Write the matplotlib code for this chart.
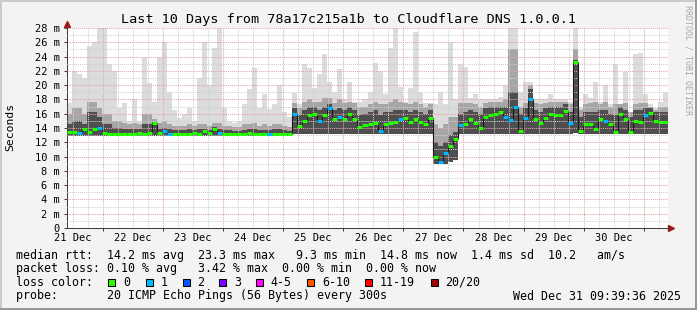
import numpy as np
import matplotlib
matplotlib.use('Agg')
import matplotlib.pyplot as plt
from matplotlib.patches import Rectangle

W, H = 697, 310
MONO = 'DejaVu Sans Mono'
plt.rcParams['font.family'] = MONO

# time axis in days since 21 Dec 00:00; graph ends Wed Dec 31 09:39:36
t_start = 0.4028
t_end = 10.4028
n_bins = 120

# median rtt per bin (ms)
med = [13.5, 13.4, 13.3, 13.9, 13.4, 13.9, 14.0, 13.3, 13.2, 13.2,
       13.2, 13.2, 13.2, 13.2, 13.3, 13.2, 13.3, 14.7, 13.3, 13.6,
       13.2, 13.2, 13.2, 13.2, 13.2, 13.3, 13.2, 13.6, 13.3, 13.9,
       13.3, 13.2, 13.2, 13.2, 13.2, 13.2, 13.3, 13.2, 13.2, 13.2,
       13.2, 13.2, 13.2, 13.2, 13.2, 16.0, 14.3, 15.0, 15.8, 15.9,
       15.0, 15.8, 16.8, 15.2, 15.5, 15.2, 16.0, 15.3, 14.2, 14.4,
       14.6, 14.7, 13.6, 14.6, 14.7, 14.8, 15.2, 15.4, 14.8, 15.2,
       14.8, 14.5, 15.4, 10.0, 9.3, 10.5, 11.5, 12.4, 14.4, 14.6,
       15.2, 14.7, 14.0, 15.6, 15.8, 16.0, 16.2, 15.6, 15.1, 17.0,
       13.6, 15.4, 18.0, 15.2, 14.7, 15.4, 15.9, 15.8, 15.8, 16.4,
       14.7, 23.3, 13.6, 14.6, 14.5, 13.9, 15.2, 15.0, 14.5, 13.4,
       16.0, 15.2, 13.5, 15.0, 14.9, 15.8, 16.1, 15.0, 14.9, 14.9]

# lost pings per bin (0 or 1 of 20)
loss = [0, 0, 1, 0, 0, 0, 1, 0, 0, 0,
        0, 0, 0, 0, 0, 0, 0, 0, 0, 1,
        1, 0, 0, 0, 0, 0, 0, 0, 0, 0,
        1, 0, 0, 0, 0, 0, 0, 0, 0, 0,
        1, 0, 0, 0, 0, 1, 0, 0, 0, 0,
        1, 0, 1, 0, 1, 0, 0, 0, 0, 0,
        0, 0, 1, 0, 0, 0, 1, 0, 0, 0,
        0, 0, 0, 0, 1, 1, 0, 0, 1, 0,
        0, 0, 0, 0, 0, 0, 0, 1, 1, 1,
        0, 1, 1, 0, 0, 0, 0, 0, 0, 0,
        1, 0, 0, 0, 0, 0, 0, 1, 0, 0,
        0, 0, 0, 0, 0, 1, 0, 0, 0, 0]

# smoke envelopes (ms): max ping, upper spread, inner spread, min ping
top = [17.5, 22.0, 21.5, 21.0, 25.5, 26.0, 28.0, 28.0, 23.0, 22.0,
       16.8, 17.5, 15.0, 18.0, 15.0, 23.8, 20.3, 17.7, 24.0, 26.0,
       19.0, 16.5, 15.4, 15.9, 16.8, 15.0, 21.0, 26.0, 20.0, 25.2,
       28.0, 16.8, 15.0, 14.7, 15.0, 17.3, 19.4, 22.4, 16.8, 18.7,
       16.6, 17.3, 20.0, 16.3, 15.5, 18.9, 17.3, 22.9, 22.4, 19.6,
       21.5, 24.3, 20.5, 19.0, 22.2, 18.0, 20.5, 17.7, 17.7, 18.0,
       19.0, 23.1, 22.0, 18.7, 25.2, 28.0, 19.8, 17.7, 19.6, 27.5,
       19.0, 17.5, 17.5, 17.3, 19.0, 17.3, 26.0, 18.0, 23.0, 22.5,
       18.2, 18.7, 18.0, 18.0, 18.0, 18.0, 18.4, 20.0, 28.0, 28.0,
       19.0, 20.5, 20.5, 18.0, 18.0, 18.0, 18.7, 18.0, 18.0, 18.0,
       17.7, 28.0, 17.0, 18.7, 18.2, 20.5, 17.7, 20.0, 17.3, 22.9,
       17.3, 21.8, 16.3, 24.3, 24.5, 18.7, 17.3, 16.8, 17.7, 19.0]

upper = [15.9, 16.8, 16.8, 15.9, 17.7, 17.7, 16.8, 15.9, 15.9, 15.0,
         15.0, 14.7, 14.5, 14.7, 14.5, 15.9, 15.9, 15.2, 14.7, 15.0,
         14.5, 14.3, 14.3, 14.3, 14.5, 14.3, 14.5, 14.5, 14.3, 14.7,
         14.7, 14.3, 14.3, 14.2, 14.2, 14.5, 14.5, 14.7, 14.3, 14.5,
         14.3, 14.5, 14.5, 14.3, 14.2, 17.5, 16.8, 17.7, 18.0, 17.7,
         17.7, 18.2, 18.2, 17.5, 18.0, 17.5, 17.7, 17.5, 17.0, 17.0,
         17.3, 17.7, 17.3, 17.3, 17.7, 18.0, 17.7, 17.5, 17.3, 17.7,
         17.3, 17.0, 17.3, 14.5, 14.0, 14.5, 15.5, 15.5, 17.5, 17.5,
         17.5, 17.3, 17.0, 17.5, 17.7, 17.7, 17.7, 18.0, 25.0, 25.0,
         17.0, 17.5, 20.0, 17.5, 17.3, 17.5, 17.7, 17.7, 17.7, 17.7,
         17.3, 25.0, 16.5, 17.3, 17.5, 17.7, 17.3, 17.7, 17.0, 17.3,
         17.3, 17.5, 16.3, 17.3, 17.5, 17.5, 17.0, 16.5, 17.0, 17.0]

inner = [14.5, 15.0, 15.0, 14.5, 16.3, 16.3, 15.6, 14.5, 14.5, 14.0,
         14.0, 13.9, 13.8, 13.9, 13.8, 14.5, 14.5, 14.9, 13.9, 14.0,
         13.8, 13.7, 13.7, 13.7, 13.8, 13.7, 13.8, 13.9, 13.7, 14.1,
         13.8, 13.7, 13.7, 13.6, 13.6, 13.7, 13.8, 13.8, 13.7, 13.7,
         13.7, 13.8, 13.8, 13.7, 13.6, 16.8, 15.8, 16.5, 17.0, 17.0,
         16.5, 17.0, 17.3, 16.5, 16.8, 16.5, 17.0, 16.5, 15.8, 16.0,
         16.3, 16.5, 15.8, 16.3, 16.3, 16.5, 16.5, 16.5, 16.3, 16.5,
         16.3, 16.0, 16.5, 12.0, 11.5, 12.0, 13.0, 13.5, 16.0, 16.3,
         16.5, 16.3, 16.0, 16.8, 17.0, 17.0, 17.0, 17.0, 19.0, 19.0,
         16.0, 16.8, 19.5, 16.5, 16.3, 16.8, 17.0, 17.0, 17.0, 17.3,
         16.3, 23.5, 15.5, 16.3, 16.3, 16.3, 16.5, 16.5, 16.0, 15.8,
         17.0, 16.5, 15.5, 16.5, 16.5, 16.8, 16.8, 16.3, 16.3, 16.3]

low = [12.9, 12.9, 12.9, 12.9, 12.9, 12.9, 12.9, 12.9, 12.9, 12.9,
       12.9, 12.9, 12.9, 12.9, 12.9, 12.9, 12.9, 12.9, 12.9, 12.9,
       12.9, 12.9, 12.9, 12.9, 12.9, 12.9, 12.9, 12.9, 12.9, 12.9,
       12.9, 12.9, 12.9, 12.9, 12.9, 12.9, 12.9, 12.9, 12.9, 12.9,
       12.9, 12.9, 12.9, 12.9, 12.9, 13.1, 13.1, 13.1, 13.1, 13.1,
       13.1, 13.1, 13.1, 13.1, 13.1, 13.1, 13.1, 13.1, 13.1, 13.1,
       13.1, 13.1, 13.1, 13.1, 13.1, 13.1, 13.1, 13.1, 13.1, 13.1,
       13.1, 13.1, 13.1, 9.0, 8.9, 9.0, 9.3, 9.5, 13.1, 13.1,
       13.1, 13.1, 13.1, 13.1, 13.1, 13.1, 13.1, 13.1, 13.1, 13.1,
       13.1, 13.1, 13.1, 13.1, 13.1, 13.1, 13.1, 13.1, 13.1, 13.1,
       13.1, 13.3, 13.1, 13.1, 13.1, 13.1, 13.1, 13.1, 13.1, 13.1,
       13.1, 13.1, 13.1, 13.1, 13.1, 13.1, 13.1, 13.1, 13.1, 13.1]

day_labels = ['21 Dec', '22 Dec', '23 Dec', '24 Dec', '25 Dec',
              '26 Dec', '27 Dec', '28 Dec', '29 Dec', '30 Dec']
y_ticks = list(range(0, 29, 2))
y_labels = ['0'] + ['%d m' % v for v in y_ticks[1:]]

loss_names = ['0', '1', '2', '3', '4-5', '6-10', '11-19', '20/20']
loss_colors = ['#26ff00', '#00b8ff', '#0059ff', '#7e00ff',
               '#ff00ff', '#ff5500', '#ff0000', '#a10000']

rtt_line = 'median rtt:  14.2 ms avg  23.3 ms max   9.3 ms min  14.8 ms now  1.4 ms sd  10.2   am/s'
loss_line = 'packet loss: 0.10 % avg   3.42 % max  0.00 % min  0.00 % now'
probe_line = 'probe:       20 ICMP Echo Pings (56 Bytes) every 300s'
stamp = 'Wed Dec 31 09:39:36 2025'
title = 'Last 10 Days from 78a17c215a1b to Cloudflare DNS 1.0.0.1'


def px(x, y):
    return x / W, 1 - y / H


fig = plt.figure(figsize=(W / 100, H / 100), dpi=100, facecolor='#f3f3f3')
ax = fig.add_axes([67 / W, 1 - 228 / H, 601 / W, 200 / H])
ax.set_facecolor('white')

edges = np.linspace(t_start, t_end, n_bins + 1)

# smoke
ax.stairs(top, edges, baseline=low, fill=True, color='#dcdcdc', lw=0, zorder=1)
ax.stairs(upper, edges, baseline=low, fill=True, color='#a6a6a6', lw=0, zorder=1.1)
ax.stairs(inner, edges, baseline=low, fill=True, color='#4e4e4e', lw=0, zorder=1.2)

# median line + loss coloured markers
ax.stairs(med, edges, baseline=None, color='#1a1a1a', lw=0.8, zorder=3)
ax.hlines(med, edges[:-1], edges[1:], colors=[loss_colors[l] for l in loss],
          lw=2.2, zorder=4)

ax.set_xlim(t_start, t_end)
ax.set_ylim(0, 28)
ax.set_xticks(np.arange(1, 11), labels=[''] * 10)
ax.set_xticks(np.arange(0.5, 10.41, 0.25), minor=True)
ax.set_yticks(y_ticks, labels=y_labels)
ax.set_yticks(np.arange(1, 28, 2), minor=True)

ax.set_axisbelow(False)
ax.grid(which='minor', color='#cfcfcf', ls=(0, (1, 1)), lw=0.75)
ax.grid(which='major', color='#e8a4a4', ls=(0, (1, 1)), lw=0.75)

ax.tick_params(which='major', length=2, width=0.75, direction='out',
               color='#404040', labelsize=7.5, pad=3)
ax.tick_params(which='minor', length=0)

for s in ['top', 'right']:
    ax.spines[s].set_visible(False)
for s in ['left', 'bottom']:
    ax.spines[s].set_color('#404040')
    ax.spines[s].set_linewidth(0.75)

# axis arrows
ax.plot([t_start, t_start], [28, 28.6], color='#404040', lw=0.75, clip_on=False)
ax.plot([t_start], [28.6], marker='^', ms=4.5, color='#9b1c1c', mec='#9b1c1c',
        clip_on=False)
ax.plot([t_end, t_end + 0.05], [0, 0], color='#404040', lw=0.75, clip_on=False)
ax.plot([t_end + 0.05], [0], marker='>', ms=4.5, color='#9b1c1c', mec='#9b1c1c',
        clip_on=False)

xt = ax.get_xaxis_transform()
for k, lab in enumerate(day_labels):
    ax.text(k + 0.5, -0.05, lab, transform=xt, ha='center', va='center',
            fontsize=7.5)

fig.text(*px(348.5, 19), title, ha='center', va='center', fontsize=9.7)
fig.text(*px(10, 127), 'Seconds', rotation=90, ha='center', va='center',
         fontsize=8.2)
fig.text(*px(688, 5), 'RRDTOOL / TOBI OETIKER', rotation=270, ha='center',
         va='top', fontsize=6, color='#a8a8a8')

# legend block
fs = 8.4
row_y = [255, 268.3, 282.3, 296]
fig.text(*px(15.5, row_y[0]), rtt_line, va='center', fontsize=fs)
fig.text(*px(15.5, row_y[1]), loss_line, va='center', fontsize=fs)
fig.text(*px(15.5, row_y[2]), 'loss color:', va='center', fontsize=fs)
box_x = [108.3, 146, 182.7, 219.3, 256, 307.3, 365, 430.7]
for bx, name, c in zip(box_x, loss_names, loss_colors):
    fig.add_artist(Rectangle(px(bx, 285.8), 7 / W, 7.3 / H, facecolor=c,
                             edgecolor='black', lw=0.75,
                             transform=fig.transFigure))
    fig.text(*px(bx + 14.5, row_y[2]), name, va='center', fontsize=fs)
fig.text(*px(15.5, row_y[3]), probe_line, va='center', fontsize=fs)
fig.text(*px(681, row_y[3]), stamp, va='center', ha='right', fontsize=fs)

# 3d frame border
fig.add_artist(Rectangle((0, 1 - 2 / H), 1, 2 / H, color='#cbcbcb', lw=0,
                         transform=fig.transFigure))
fig.add_artist(Rectangle((0, 0), 2 / W, 1, color='#cbcbcb', lw=0,
                         transform=fig.transFigure))
fig.add_artist(Rectangle((0, 0), 1, 2 / H, color='#999999', lw=0,
                         transform=fig.transFigure))
fig.add_artist(Rectangle((1 - 2 / W, 0), 2 / W, 1, color='#999999', lw=0,
                         transform=fig.transFigure))

fig.savefig('out.png', dpi=100, facecolor=fig.get_facecolor())
